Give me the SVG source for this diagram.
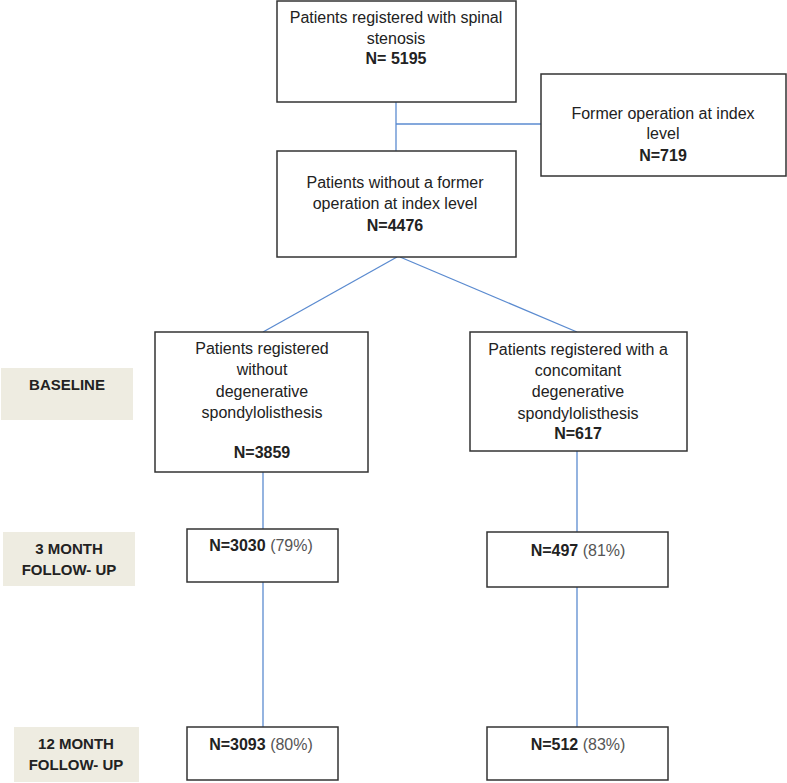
<svg xmlns="http://www.w3.org/2000/svg" width="787" height="783" viewBox="0 0 787 783">
<style>
.box{fill:#fff;stroke:#333;stroke-width:1.5}
.lab{fill:#eeece1}
.t{font-family:"Liberation Sans","Open Sans",sans-serif;font-size:16px;fill:#222;text-anchor:middle}
.b{font-weight:bold}
.p{font-weight:normal;fill:#555}
.lt{font-family:"Liberation Sans","Open Sans",sans-serif;font-size:15px;font-weight:bold;fill:#222;text-anchor:middle}
.c{stroke:#5b8bd0;stroke-width:1.3;fill:none}
</style>
<rect width="787" height="783" fill="#fff"/>
<g id="connectors">
<line class="c" x1="396" y1="102" x2="396" y2="151"/>
<line class="c" x1="396" y1="124" x2="541" y2="124"/>
<line class="c" x1="397" y1="257" x2="263" y2="332"/>
<line class="c" x1="400" y1="257" x2="577" y2="332"/>
<line class="c" x1="263" y1="472" x2="263" y2="529"/>
<line class="c" x1="263" y1="582" x2="263" y2="727"/>
<line class="c" x1="577" y1="451" x2="577" y2="532"/>
<line class="c" x1="577" y1="587" x2="577" y2="727"/>
</g>
<g id="label-baseline">
<rect class="lab" x="1" y="368" width="132" height="52"/>
<text class="lt" x="67" y="390">BASELINE</text>
</g>
<g id="label-3month">
<rect class="lab" x="3" y="532" width="132" height="54"/>
<text class="lt" x="69" y="554">3 MONTH</text>
<text class="lt" x="69" y="575">FOLLOW- UP</text>
</g>
<g id="label-12month">
<rect class="lab" x="14" y="727" width="125" height="55"/>
<text class="lt" x="76" y="749">12 MONTH</text>
<text class="lt" x="76" y="770">FOLLOW- UP</text>
</g>
<g id="n-5195">
<rect class="box" x="277" y="1" width="239" height="101"/>
<text class="t" x="396" y="23">Patients registered with  spinal</text>
<text class="t" x="396" y="44">stenosis</text>
<text class="t b" x="396" y="64">N= 5195</text>
</g>
<g id="n-719">
<rect class="box" x="541" y="74" width="245" height="102"/>
<text class="t" x="663" y="119">Former  operation at index</text>
<text class="t" x="663" y="139">level</text>
<text class="t b" x="663" y="161">N=719</text>
</g>
<g id="n-4476">
<rect class="box" x="277" y="151" width="239" height="106"/>
<text class="t" x="395" y="188">Patients without  a former</text>
<text class="t" x="395" y="209">operation  at index level</text>
<text class="t b" x="395" y="231">N=4476</text>
</g>
<g id="n-3859">
<rect class="box" x="155" y="332" width="213" height="140"/>
<text class="t" x="262" y="354">Patients  registered</text>
<text class="t" x="262" y="375">without</text>
<text class="t" x="262" y="397">degenerative</text>
<text class="t" x="262" y="418">spondylolisthesis</text>
<text class="t b" x="262" y="458">N=3859</text>
</g>
<g id="n-617">
<rect class="box" x="470" y="332" width="217" height="119"/>
<text class="t" x="578" y="355">Patients  registered with a</text>
<text class="t" x="578" y="376">concomitant</text>
<text class="t" x="578" y="397">degenerative</text>
<text class="t" x="578" y="419">spondylolisthesis</text>
<text class="t b" x="578" y="439">N=617</text>
</g>
<g id="n-3030">
<rect class="box" x="187" y="529" width="151" height="53"/>
<text class="t" x="261" y="551"><tspan class="b">N=3030</tspan> <tspan class="p">(79%)</tspan></text>
</g>
<g id="n-497">
<rect class="box" x="487" y="532" width="181" height="55"/>
<text class="t" x="578" y="556"><tspan class="b">N=497</tspan> <tspan class="p">(81%)</tspan></text>
</g>
<g id="n-3093">
<rect class="box" x="187" y="727" width="151" height="53"/>
<text class="t" x="261" y="750"><tspan class="b">N=3093</tspan> <tspan class="p">(80%)</tspan></text>
</g>
<g id="n-512">
<rect class="box" x="487" y="727" width="181" height="53"/>
<text class="t" x="578" y="750"><tspan class="b">N=512</tspan> <tspan class="p">(83%)</tspan></text>
</g>
</svg>
